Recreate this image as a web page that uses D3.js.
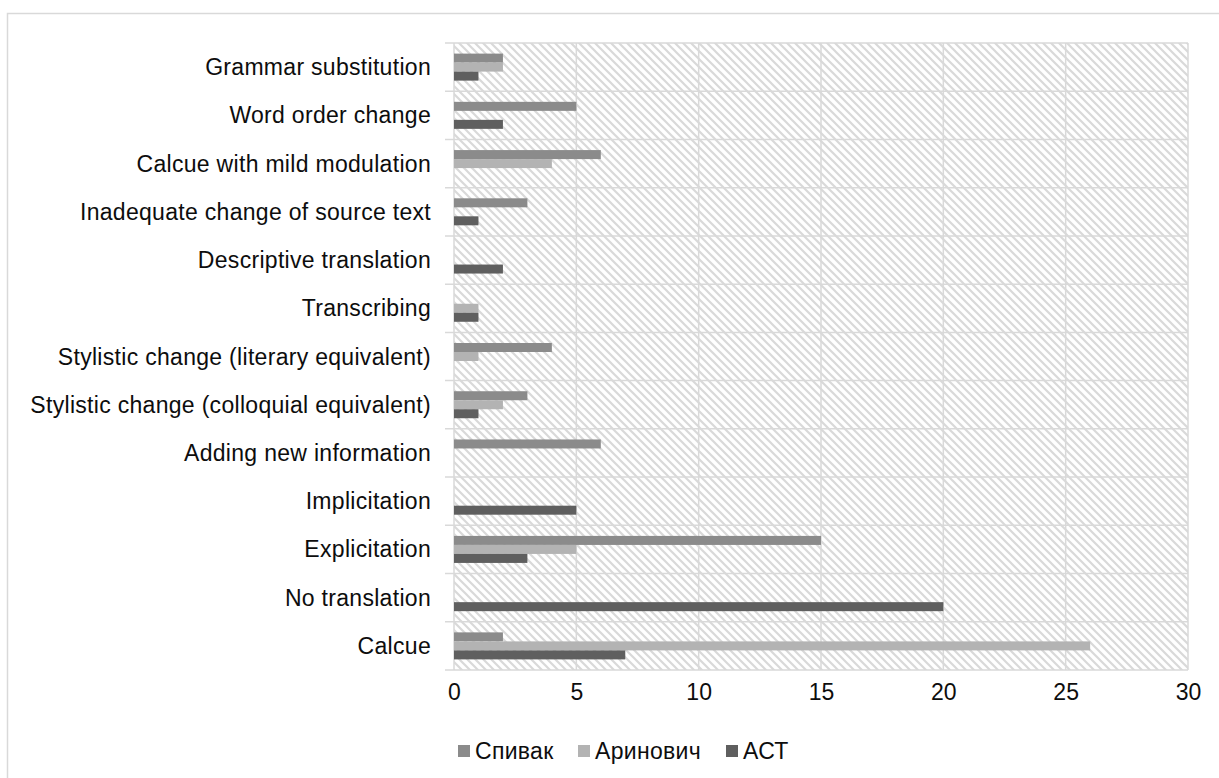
<!DOCTYPE html>
<html>
<head>
<meta charset="utf-8">
<script src="https://cdn.jsdelivr.net/npm/d3@7"></script>
<style>
  html, body { margin: 0; padding: 0; background: #fff; }
  svg { display: block; font-family: "Liberation Sans", Arial, sans-serif; }
</style>
</head>
<body>
<svg id="chart" width="1219" height="778"></svg>
<script>
// Translation techniques, counted per translation
const categories = [
  "Grammar substitution",
  "Word order change",
  "Calcue with mild modulation",
  "Inadequate change of source text",
  "Descriptive translation",
  "Transcribing",
  "Stylistic change (literary equivalent)",
  "Stylistic change (colloquial equivalent)",
  "Adding new information",
  "Implicitation",
  "Explicitation",
  "No translation",
  "Calcue"
];
const seriesNames = ["Спивак", "Аринович", "АСТ"];
const spivak    = [2, 5, 6, 3, 0, 0, 4, 3, 6, 0, 15, 0, 2];
const arinovich = [2, 0, 4, 0, 0, 1, 1, 2, 0, 0, 5, 0, 26];
const ast       = [1, 2, 0, 1, 2, 1, 0, 1, 0, 5, 3, 20, 7];
const xTicks    = [0, 5, 10, 15, 20, 25, 30];
const seriesColors = ["#8b8b8b", "#b3b3b3", "#5f5f5f"];

const seriesValues = [spivak, arinovich, ast];

const svg = d3.select("#chart");
const W = 1219, H = 778;
const plot = { left: 454, right: 1188, top: 43, bottom: 670 };
const gridColor = "#d9d9d9";
const fontSize = 23;

// Chart area border (extends past the visible canvas on the right and bottom)
svg.append("rect")
  .attr("x", 7.5).attr("y", 13.5)
  .attr("width", W + 40).attr("height", H + 40)
  .attr("fill", "#fff")
  .attr("stroke", gridColor).attr("stroke-width", 1.5);

// Diagonal hatch used as the plot-area fill
const defs = svg.append("defs");
const pat = defs.append("pattern")
  .attr("id", "hatch")
  .attr("patternUnits", "userSpaceOnUse")
  .attr("width", 8).attr("height", 8);
pat.append("rect").attr("width", 8).attr("height", 8).attr("fill", "#fff");
pat.append("path")
  .attr("d", "M-2,-2 L10,10 M-2,6 L2,10 M6,-2 L10,2")
  .attr("stroke", "#d9d9d9").attr("stroke-width", 2.2);

const x = d3.scaleLinear().domain([0, 30]).range([plot.left, plot.right]);
const y = d3.scaleBand().domain(categories).range([plot.top, plot.bottom]).padding(0);
const groupH = y.bandwidth() * 0.56;
const ySub = d3.scaleBand().domain(seriesNames)
  .range([(y.bandwidth() - groupH) / 2, (y.bandwidth() + groupH) / 2]).padding(0);

svg.append("rect")
  .attr("x", plot.left).attr("y", plot.top)
  .attr("width", plot.right - plot.left).attr("height", plot.bottom - plot.top)
  .attr("fill", "url(#hatch)");

// Vertical gridlines
svg.append("g").selectAll("line").data(xTicks).join("line")
  .attr("x1", d => x(d)).attr("x2", d => x(d))
  .attr("y1", plot.top).attr("y2", plot.bottom)
  .attr("stroke", gridColor).attr("stroke-width", 1.5);

// Horizontal category separators, with tick stubs left of the axis
const bounds = categories.map(c => y(c)).concat([plot.bottom]);
svg.append("g").selectAll("line").data(bounds).join("line")
  .attr("x1", plot.left - 9).attr("x2", plot.right)
  .attr("y1", d => d).attr("y2", d => d)
  .attr("stroke", gridColor).attr("stroke-width", 1.5);

// Bars
const rows = svg.append("g").selectAll("g").data(categories).join("g")
  .attr("transform", c => `translate(0,${y(c)})`);
rows.selectAll("rect")
  .data((c, i) => seriesNames.map((s, k) => ({ s, k, v: seriesValues[k][i] })))
  .join("rect")
  .attr("x", x(0))
  .attr("y", d => ySub(d.s))
  .attr("width", d => x(d.v) - x(0))
  .attr("height", ySub.bandwidth())
  .attr("fill", d => seriesColors[d.k]);

// Category labels
svg.append("g").selectAll("text").data(categories).join("text")
  .attr("x", 431)
  .attr("y", c => y(c) + y.bandwidth() / 2)
  .attr("dy", "0.35em")
  .attr("text-anchor", "end")
  .attr("font-size", fontSize)
  .attr("letter-spacing", 0.3)
  .attr("fill", "#0d0d0d")
  .text(c => c);

// X axis tick labels
const xAxis = d3.axisBottom(x).tickValues(xTicks).tickSize(0).tickPadding(14);
const gx = svg.append("g").attr("transform", `translate(0,${plot.bottom})`).call(xAxis);
gx.select(".domain").remove();
gx.selectAll("text")
  .attr("font-size", fontSize)
  .attr("font-family", "Liberation Sans, Arial, sans-serif")
  .attr("fill", "#0d0d0d");

// Legend
const legendItems = [
  { name: seriesNames[0], color: seriesColors[0], x: 458 },
  { name: seriesNames[1], color: seriesColors[1], x: 578 },
  { name: seriesNames[2], color: seriesColors[2], x: 726 }
];
const lg = svg.append("g").selectAll("g").data(legendItems).join("g")
  .attr("transform", d => `translate(${d.x},745)`);
lg.append("rect").attr("width", 12).attr("height", 12).attr("fill", d => d.color);
lg.append("text")
  .attr("x", 17).attr("y", 6).attr("dy", "0.36em")
  .attr("font-size", fontSize).attr("letter-spacing", 0.3)
  .attr("fill", "#0d0d0d")
  .text(d => d.name);
</script>
</body>
</html>
